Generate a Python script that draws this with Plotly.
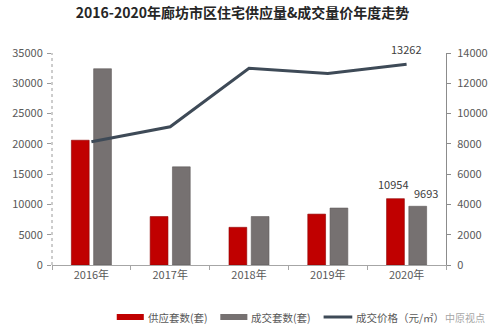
import plotly.graph_objects as go

# Annual residential data, Langfang urban district
years = ["2016年", "2017年", "2018年", "2019年", "2020年"]
supply_units = [20600, 8000, 6220, 8400, 10954]      # 供应套数(套)
sold_units = [32400, 16200, 8000, 9400, 9693]        # 成交套数(套)
avg_price = [8140, 9130, 12990, 12650, 13262]        # 成交价格(元/㎡)

left_ticks = [0, 5000, 10000, 15000, 20000, 25000, 30000, 35000]
right_ticks = [0, 2000, 4000, 6000, 8000, 10000, 12000, 14000]

FONT = "Noto Sans CJK SC"
TXT = "#595959"
RED = "#C00000"
GRAY = "#767171"
LINE = "#3E4A57"
LABEL_FONT = dict(size=11, color="#404040", family=FONT)

fig = go.Figure()
fig.add_trace(go.Bar(
    x=years, y=supply_units, name="供应套数(套)",
    marker=dict(color=RED, line=dict(color="#8E0000", width=0.6)),
))
fig.add_trace(go.Bar(
    x=years, y=sold_units, name="成交套数(套)",
    marker=dict(color=GRAY, line=dict(color="#5f5b5b", width=0.6)),
))
fig.add_trace(go.Scatter(
    x=years, y=avg_price, name="成交价格（元/㎡）", yaxis="y2",
    mode="lines", line=dict(color=LINE, width=3),
))

# Value labels for the latest year
fig.add_annotation(x=years[-1], y=avg_price[-1], xref="x", yref="y2",
                   text=str(avg_price[-1]), showarrow=False, yshift=15,
                   font=LABEL_FONT)
fig.add_annotation(x=years[-1], y=supply_units[-1], xref="x", yref="y",
                   text=str(supply_units[-1]), showarrow=False,
                   xshift=-13, yshift=15, font=LABEL_FONT)
fig.add_annotation(x=years[-1], y=sold_units[-1], xref="x", yref="y",
                   text=str(sold_units[-1]), showarrow=False,
                   xshift=19, yshift=13, font=LABEL_FONT)

# Dotted left axis line
fig.add_shape(type="line", xref="paper", yref="paper", x0=0, x1=0, y0=0, y1=1,
              line=dict(color="#9a9a9a", width=1, dash="dot"))

# Custom legend row
items = [
    (111.7, 140, "供应套数(套)", "bar", RED),
    (220, 248.3, "成交套数(套)", "bar", GRAY),
    (328, 358, "成交价格（元/㎡）", "line", LINE),
]
plot_l, plot_w = 44, 412
plot_b, plot_h = 265, 212
ymid = (plot_b - 317) / plot_h
for x0, x1, label, kind, col in items:
    px0 = (x0 - plot_l) / plot_w
    px1 = (x1 - plot_l) / plot_w
    if kind == "bar":
        fig.add_shape(type="rect", xref="paper", yref="paper",
                      x0=px0, x1=px1, y0=ymid - 3 / plot_h, y1=ymid + 3 / plot_h,
                      fillcolor=col, line=dict(width=0))
    else:
        fig.add_shape(type="line", xref="paper", yref="paper",
                      x0=px0, x1=px1, y0=ymid, y1=ymid,
                      line=dict(color=col, width=3))
    fig.add_annotation(x=px1 + 2 / plot_w, y=ymid, xref="paper", yref="paper",
                       text=label, showarrow=False, xanchor="left", yanchor="middle",
                       font=dict(size=10.5, color=TXT, family=FONT))

# Publisher mark
fig.add_annotation(x=(453 - plot_l) / plot_w, y=ymid,
                   xref="paper", yref="paper", text="中原视点", showarrow=False,
                   xanchor="left", yanchor="middle",
                   font=dict(size=10, color="rgba(140,140,140,0.8)", family=FONT))

fig.update_layout(
    width=500, height=335,
    margin=dict(l=44, r=44, t=53, b=70),
    paper_bgcolor="white", plot_bgcolor="white",
    barmode="group", bargap=0.435, bargroupgap=0.2,
    showlegend=False,
    font=dict(family=FONT, size=11, color=TXT),
    title=dict(text="<b>2016-2020年廊坊市区住宅供应量&成交量价年度走势</b>",
               x=0.485, xanchor="center", y=0.962, yanchor="middle",
               font=dict(size=14, color="#262626", family=FONT)),
    xaxis=dict(
        type="category", showgrid=False, showline=True, linecolor="#a6a6a6",
        linewidth=1, ticks="outside", tickson="boundaries", ticklen=4,
        tickcolor="#a6a6a6", tickfont=dict(size=11, color=TXT),
    ),
    yaxis=dict(
        range=[0, 35000], tickvals=left_ticks, tickformat="d", showgrid=False,
        showline=False, zeroline=False, ticks="outside", ticklen=4,
        tickcolor="#9a9a9a", tickfont=dict(size=11, color=TXT),
        ticklabelstandoff=2,
    ),
    yaxis2=dict(
        range=[0, 14000], tickvals=right_ticks, tickformat="d", overlaying="y",
        side="right", showgrid=False, showline=True, linecolor="#8c8c8c",
        linewidth=1, zeroline=False, ticks="outside", ticklen=4,
        tickcolor="#8c8c8c", tickfont=dict(size=11, color=TXT),
        ticklabelstandoff=4,
    ),
)

fig.write_html("out.html")
